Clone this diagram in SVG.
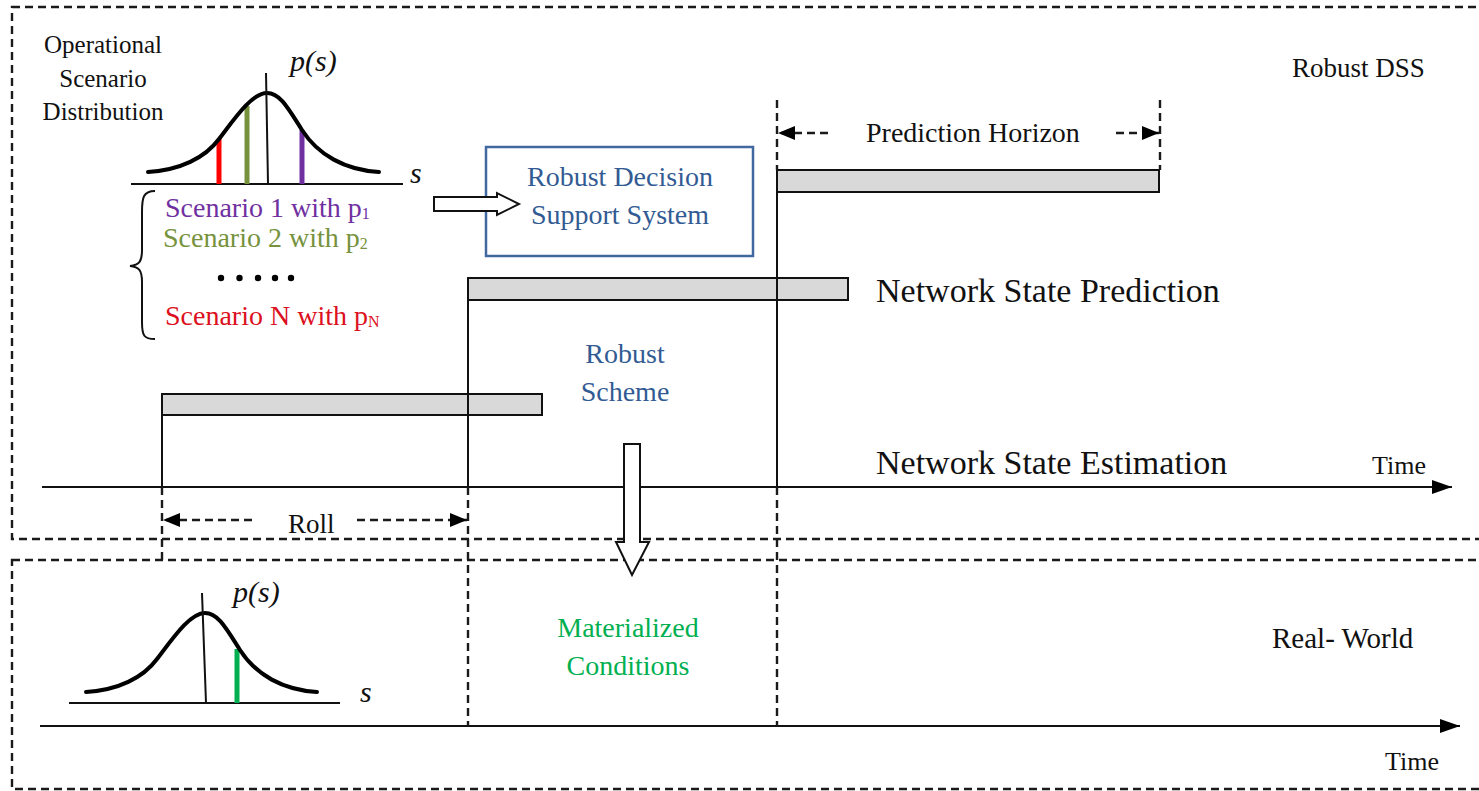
<svg xmlns="http://www.w3.org/2000/svg" xmlns:xlink="http://www.w3.org/1999/xlink" width="1479" height="791" viewBox="0 0 1479 791">
<style>
text{font-family:"Liberation Serif","Times New Roman",serif;fill:#111}
.c{text-anchor:middle}
.it{font-style:italic}
.blue{fill:#335b93}
.dash{fill:none;stroke:#1a1a1a;stroke-width:2.4;stroke-dasharray:8 5}
.ln{stroke:#111;stroke-width:2;fill:none}
.bar{fill:#d9d9d9;stroke:#111;stroke-width:2}
.curve{fill:none;stroke:#000;stroke-width:4;stroke-linecap:round}
.hollow{fill:#fff;stroke:#111;stroke-width:2}
</style>
<defs>
<marker id="ah" markerUnits="userSpaceOnUse" markerWidth="20" markerHeight="14" refX="20" refY="7" orient="auto"><path d="M0,0 L20,7 L0,14 Z" fill="#000"/></marker>
<marker id="ahs" markerUnits="userSpaceOnUse" markerWidth="17" markerHeight="14" refX="17" refY="7" orient="auto"><path d="M0,0 L17,7 L0,14 Z" fill="#000"/></marker>
<path id="gauss" d="M148,172 C180,170 205,158 219,139 C235,118 252,93 267,93 C280,93 288,108 302,130 C318,155 345,170 379,172"/>
</defs>

<g id="frames">
<rect class="dash" x="12" y="7" width="1490" height="532"/>
<rect class="dash" x="12" y="560" width="1490" height="229"/>
</g>

<g id="scenario-distribution">
<text class="c" x="103" y="53" font-size="25">Operational</text>
<text class="c" x="103" y="87" font-size="25">Scenario</text>
<text class="c" x="103" y="120" font-size="25">Distribution</text>
<line class="ln" x1="131" y1="184" x2="403" y2="184"/>
<line x1="219" y1="139" x2="219" y2="184" stroke="#ff0000" stroke-width="5"/>
<line x1="247" y1="106" x2="247" y2="184" stroke="#76923c" stroke-width="5"/>
<line x1="302" y1="130" x2="302" y2="184" stroke="#7030a0" stroke-width="5"/>
<use xlink:href="#gauss" class="curve"/>
<line class="ln" x1="266" y1="73" x2="268" y2="184"/>
<text class="it" x="290" y="71" font-size="30">p(s)</text>
<text class="it" x="410" y="183" font-size="30">s</text>
<path class="ln" d="M155,191 C143,191 142,198 142,212 L142,250 C142,262 139,265 130,266 C139,267 142,270 142,282 L142,322 C142,336 144,339 155,339"/>
<text x="165" y="217" font-size="28" style="fill:#7030a0">Scenario 1 with p<tspan font-size="16" dy="2">1</tspan></text>
<text x="163" y="247" font-size="28" style="fill:#76923c">Scenario 2 with p<tspan font-size="16" dy="2">2</tspan></text>
<g fill="#000"><circle cx="221" cy="278" r="3.2"/><circle cx="239.5" cy="278" r="3.2"/><circle cx="258" cy="278" r="3.2"/><circle cx="275" cy="278" r="3.2"/><circle cx="291" cy="278" r="3.2"/></g>
<text x="165" y="325" font-size="28" style="fill:#dc1020">Scenario N with p<tspan font-size="16" dy="2">N</tspan></text>
</g>

<g id="robust-dss-box">
<rect x="486" y="147" width="267" height="109" fill="#fff" stroke="#41689f" stroke-width="2.5"/>
<text class="c blue" x="620" y="186" font-size="28">Robust Decision</text>
<text class="c blue" x="620" y="224" font-size="28">Support System</text>
</g>

<g id="labels">
<text x="1292" y="77" font-size="27">Robust DSS</text>
<text x="866" y="142" font-size="28">Prediction Horizon</text>
<text x="876" y="302" font-size="34">Network State Prediction</text>
<text x="876" y="474" font-size="34">Network State Estimation</text>
<text x="1372" y="474" font-size="26">Time</text>
<text class="c blue" x="625" y="363" font-size="28">Robust</text>
<text class="c blue" x="625" y="401" font-size="28">Scheme</text>
<text x="288" y="533" font-size="27">Roll</text>
<text class="c" x="628" y="637" font-size="28" style="fill:#00b050">Materialized</text>
<text class="c" x="628" y="675" font-size="28" style="fill:#00b050">Conditions</text>
<text x="1272" y="648" font-size="29">Real- World</text>
<text x="1385" y="770" font-size="26">Time</text>
</g>

<g id="real-world-distribution">
<line class="ln" x1="69" y1="703" x2="340" y2="703"/>
<line x1="237" y1="649" x2="237" y2="703" stroke="#00b050" stroke-width="5"/>
<use xlink:href="#gauss" class="curve" transform="translate(-62,520)"/>
<line class="ln" x1="202" y1="593" x2="206" y2="703"/>
<text class="it" x="233" y="602" font-size="30">p(s)</text>
<text class="it" x="360" y="702" font-size="30">s</text>
</g>

<g id="bars">
<rect class="bar" x="162" y="394" width="380" height="21"/>
<rect class="bar" x="468" y="278" width="380" height="22"/>
<rect class="bar" x="777" y="170" width="382" height="22"/>
</g>

<g id="connectors">
<line class="ln" x1="42" y1="487" x2="1452" y2="487" marker-end="url(#ah)"/>
<line class="ln" x1="40" y1="726" x2="1460" y2="726" marker-end="url(#ah)"/>
<line class="ln" x1="162" y1="394" x2="162" y2="487"/>
<line class="ln" x1="468" y1="278" x2="468" y2="487"/>
<line class="ln" x1="777" y1="170" x2="777" y2="487"/>
<line class="dash" x1="162" y1="487" x2="162" y2="560"/>
<line class="dash" x1="468" y1="487" x2="468" y2="726"/>
<line class="dash" x1="777" y1="487" x2="777" y2="726"/>
<line class="dash" x1="777" y1="100" x2="777" y2="170"/>
<line class="dash" x1="1160" y1="100" x2="1160" y2="170"/>
<line class="dash" x1="252" y1="520" x2="163" y2="520" marker-end="url(#ahs)"/>
<line class="dash" x1="357" y1="520" x2="467" y2="520" marker-end="url(#ahs)"/>
<line class="dash" x1="828" y1="133" x2="778" y2="133" marker-end="url(#ahs)"/>
<line class="dash" x1="1116" y1="133" x2="1159" y2="133" marker-end="url(#ahs)"/>
<polygon class="hollow" points="434,197 497,197 497,193 519,204 497,215 497,211 434,211"/>
<polygon class="hollow" points="624,444 640,444 640,542 649,542 632,575 616,542 624,542"/>
</g>
</svg>
